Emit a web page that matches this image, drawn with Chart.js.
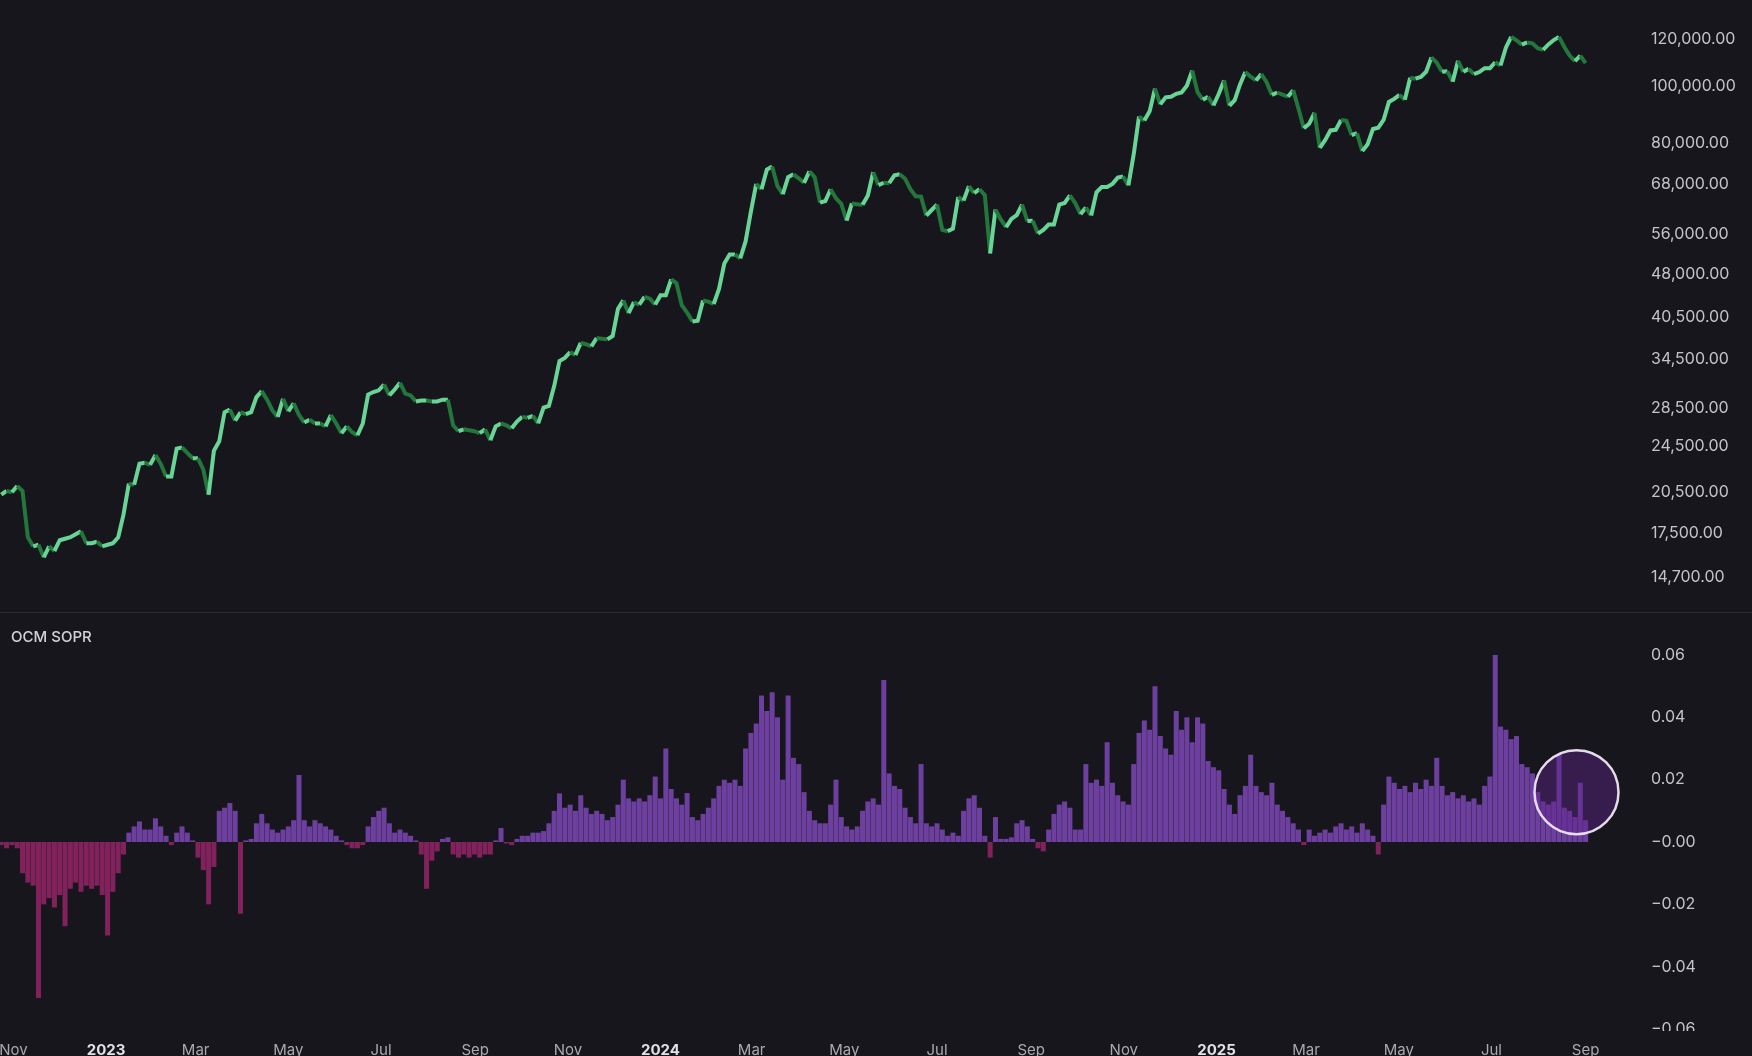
<!DOCTYPE html>
<html>
<head>
<meta charset="utf-8">
<script src="https://cdn.jsdelivr.net/npm/chart.js@4/dist/chart.umd.min.js"></script>
<style>
  html, body { margin: 0; padding: 0; background: #17161c; overflow: hidden; }
  #wrap { width: 1752px; height: 1056px; position: relative; }
  #top { display: block; }
  #bottomBox { border-top: 1px solid #2b2a31; }
  #bottom { display: block; }
</style>
</head>
<body>
<div id="wrap">
  <canvas id="top" width="1752" height="612"></canvas>
  <div id="bottomBox"><canvas id="bottom" width="1752" height="443"></canvas></div>
</div>
<script>
// ---------------- DATA ----------------
// Samples every 3.5 days starting 2022-10-24
const startDate = '2022-10-24';
const stepDays = 3.5;

// BTC price (USD thousands)
const btcPriceK = [
  20.3, 20.6, 20.5, 21.0, 20.6, 17.2, 16.6, 16.7, 15.9, 16.6,
  16.3, 17.0, 17.1, 17.2, 17.4, 17.6, 16.8, 16.8, 16.9, 16.6,
  16.7, 16.8, 17.2, 18.8, 21.2, 21.1, 22.9, 23.0, 22.8, 23.7,
  22.9, 21.8, 21.8, 24.3, 24.4, 23.9, 23.4, 23.4, 22.4, 20.3,
  24.1, 25.0, 28.0, 28.3, 27.1, 28.0, 27.8, 28.0, 29.7, 30.4,
  29.4, 28.2, 27.5, 29.5, 28.1, 29.0, 27.7, 26.9, 27.2, 26.8,
  26.8, 26.5, 27.7, 26.8, 25.8, 26.5, 25.9, 25.6, 26.8, 30.0,
  30.3, 30.5, 31.2, 29.9, 30.6, 31.4, 30.1, 29.9, 29.2, 29.3,
  29.3, 29.2, 29.2, 29.4, 29.4, 26.6, 26.0, 26.2, 26.1, 26.0,
  25.8, 26.2, 25.1, 26.5, 26.8, 26.6, 26.3, 27.0, 27.5, 27.4,
  27.6, 26.8, 28.5, 28.7, 31.0, 34.2, 34.6, 35.4, 35.0, 36.7,
  36.5, 36.2, 37.4, 37.3, 37.2, 37.7, 41.9, 43.3, 41.2, 43.0,
  42.6, 43.9, 43.6, 42.6, 44.2, 44.2, 47.0, 46.3, 42.5, 41.3,
  39.9, 40.0, 43.3, 43.1, 42.7, 45.3, 50.0, 51.8, 51.8, 51.0,
  54.5, 61.2, 68.2, 66.8, 72.1, 73.0, 67.6, 65.5, 70.0, 70.8,
  69.7, 68.5, 71.6, 70.0, 63.4, 63.8, 66.8, 64.5, 63.1, 59.1,
  63.2, 63.0, 62.9, 65.2, 71.4, 67.9, 68.5, 68.4, 70.5, 70.8,
  69.6, 66.8, 65.0, 64.9, 60.3, 61.6, 62.9, 57.0, 56.7, 57.3,
  64.8, 63.9, 67.6, 65.8, 66.8, 65.3, 52.0, 61.7, 59.4, 57.6,
  59.5, 60.4, 62.9, 59.0, 59.1, 56.2, 57.0, 58.2, 58.2, 62.9,
  63.3, 65.2, 63.3, 60.6, 62.2, 60.3, 66.0, 67.4, 67.4, 68.2,
  69.9, 70.2, 67.8, 76.5, 88.7, 87.3, 90.5, 98.9, 93.0, 95.6,
  95.8, 96.9, 97.4, 100.0, 106.1, 97.5, 94.7, 95.8, 92.6, 96.9,
  102.1, 92.5, 94.5, 100.5, 105.5, 103.6, 102.1, 104.7, 101.4, 96.5,
  97.4, 96.6, 95.8, 98.3, 91.4, 84.7, 86.2, 90.0, 78.5, 80.9,
  84.0, 84.2, 87.5, 87.2, 82.5, 83.1, 77.5, 79.6, 84.5, 84.9,
  87.5, 93.9, 95.0, 96.5, 94.7, 103.2, 102.8, 103.5, 105.6, 111.7,
  109.4, 105.6, 105.8, 101.6, 110.2, 105.6, 106.8, 104.6, 105.5, 107.1,
  107.1, 109.6, 108.2, 116.0, 121.0, 119.4, 117.4, 118.4, 118.0, 115.8,
  115.0, 117.5, 119.5, 121.0, 116.3, 112.5, 110.1, 112.5, 109.2
];

// OCM SOPR oscillator values
const soprValues = [
  -0.001, -0.002, -0.001, -0.002, -0.010, -0.013, -0.014, -0.050, -0.020, -0.018,
  -0.021, -0.017, -0.027, -0.015, -0.013, -0.016, -0.014, -0.015, -0.014, -0.017,
  -0.030, -0.016, -0.010, -0.004, 0.003, 0.005, 0.0066, 0.004, 0.004, 0.0076,
  0.005, 0.002, -0.001, 0.003, 0.005, 0.003, 0.0005, -0.005, -0.009, -0.020,
  -0.008, 0.010, 0.011, 0.0125, 0.010, -0.023, 0.0005, 0.001, 0.006, 0.009,
  0.006, 0.004, 0.003, 0.004, 0.005, 0.007, 0.0215, 0.007, 0.005, 0.007,
  0.006, 0.005, 0.004, 0.002, 0.0005, -0.001, -0.002, -0.002, -0.001, 0.005,
  0.008, 0.010, 0.011, 0.006, 0.003, 0.004, 0.003, 0.002, 0.0005, -0.004,
  -0.015, -0.006, -0.003, 0.001, 0.0015, -0.004, -0.005, -0.004, -0.005, -0.004,
  -0.005, -0.004, -0.004, 0.0005, 0.0045, -0.0005, -0.001, 0.001, 0.002, 0.002,
  0.003, 0.003, 0.0035, 0.006, 0.010, 0.0156, 0.011, 0.012, 0.010, 0.015,
  0.011, 0.009, 0.010, 0.009, 0.007, 0.008, 0.012, 0.020, 0.014, 0.013,
  0.014, 0.013, 0.015, 0.021, 0.014, 0.030, 0.017, 0.014, 0.012, 0.0157,
  0.008, 0.007, 0.009, 0.011, 0.014, 0.018, 0.020, 0.019, 0.020, 0.018,
  0.030, 0.035, 0.038, 0.047, 0.042, 0.048, 0.040, 0.020, 0.047, 0.027,
  0.025, 0.016, 0.010, 0.007, 0.006, 0.006, 0.012, 0.020, 0.008, 0.005,
  0.004, 0.005, 0.010, 0.013, 0.014, 0.012, 0.052, 0.022, 0.018, 0.017,
  0.011, 0.008, 0.006, 0.025, 0.006, 0.005, 0.006, 0.004, 0.002, 0.003,
  0.002, 0.010, 0.014, 0.015, 0.011, 0.002, -0.005, 0.008, 0.001, 0.001,
  0.0015, 0.006, 0.007, 0.005, 0.001, -0.002, -0.003, 0.004, 0.009, 0.012,
  0.013, 0.011, 0.004, 0.004, 0.025, 0.019, 0.020, 0.018, 0.032, 0.019,
  0.015, 0.013, 0.012, 0.025, 0.035, 0.039, 0.036, 0.050, 0.034, 0.030,
  0.028, 0.042, 0.036, 0.040, 0.032, 0.040, 0.038, 0.026, 0.024, 0.023,
  0.017, 0.012, 0.009, 0.015, 0.018, 0.028, 0.018, 0.016, 0.015, 0.019,
  0.012, 0.010, 0.008, 0.006, 0.004, -0.001, 0.004, 0.002, 0.003, 0.004,
  0.003, 0.005, 0.006, 0.004, 0.005, 0.003, 0.006, 0.004, 0.002, -0.004,
  0.012, 0.021, 0.019, 0.017, 0.018, 0.016, 0.019, 0.017, 0.020, 0.018,
  0.027, 0.018, 0.015, 0.016, 0.014, 0.015, 0.013, 0.014, 0.012, 0.018,
  0.021, 0.060, 0.037, 0.036, 0.033, 0.034, 0.025, 0.024, 0.022, 0.016,
  0.013, 0.012, 0.013, 0.028, 0.011, 0.010, 0.008, 0.019, 0.007
];

// Axis tick labels
const priceTicks = [14700, 17500, 20500, 24500, 28500, 34500, 40500, 48000, 56000, 68000, 80000, 100000, 120000];
const soprTicks = [-0.06, -0.04, -0.02, 0, 0.02, 0.04, 0.06];
const xTickDates = ['2022-11-01','2023-01-01','2023-03-01','2023-05-01','2023-07-01','2023-09-01','2023-11-01',
                    '2024-01-01','2024-03-01','2024-05-01','2024-07-01','2024-09-01','2024-11-01',
                    '2025-01-01','2025-03-01','2025-05-01','2025-07-01','2025-09-01'];
const xTickLabels = ['Nov','2023','Mar','May','Jul','Sep','Nov','2024','Mar','May','Jul','Sep','Nov','2025','Mar','May','Jul','Sep'];

// Highlight circle (date, value)
const highlightDate = ['2025-08-26'];
const highlightValue = [0.016];

// ---------------- HELPERS ----------------
const dayOf = d => (Date.parse(d) - Date.parse(startDate)) / 864e5;
const xTickDays = xTickDates.map(dayOf);
const X_MIN = -0.82, X_MAX = 1078.8;
const FONT = 'Inter, "Noto Sans", "DejaVu Sans", sans-serif';
const BG = '#17161c';

const priceData = btcPriceK.map((v, i) => ({ x: i * stepDays, y: v * 1000 }));
const soprData = soprValues.map((v, i) => ({ x: i * stepDays, y: v }));
const circleData = highlightDate.map((d, i) => ({ x: dayOf(d), y: highlightValue[i] }));

const UP = '#68d596', DOWN = '#23763c';

function fixY(w) { return s => { s.width = w; s.paddingTop = 0; s.paddingBottom = 0; }; }

// ---------------- TOP CHART ----------------
new Chart(document.getElementById('top'), {
  type: 'line',
  data: {
    datasets: [{
      data: priceData,
      borderWidth: 4,
      pointRadius: 0,
      tension: 0,
      borderJoinStyle: 'miter',
      borderColor: UP,
      segment: {
        borderColor: c => (c.p1.parsed.y >= c.p0.parsed.y ? UP : DOWN)
      }
    }]
  },
  options: {
    responsive: false,
    animation: false,
    devicePixelRatio: 1,
    events: [],
    layout: { padding: 0, autoPadding: false },
    plugins: { legend: { display: false }, tooltip: { enabled: false } },
    scales: {
      x: { type: 'linear', min: X_MIN, max: X_MAX, display: false },
      y: {
        type: 'logarithmic', position: 'right', min: 12850, max: 139700, bounds: 'data',
        grid: { display: false, drawTicks: false }, border: { display: false },
        afterBuildTicks: s => { s.ticks = priceTicks.map(v => ({ value: v })); },
        afterFit: fixY(112),
        ticks: {
          padding: 11, color: '#c3c3c8', font: { family: FONT, size: 16 },
          callback: v => Number(v).toLocaleString('en-US', { minimumFractionDigits: 2, maximumFractionDigits: 2 })
        }
      }
    }
  }
});

// ---------------- BOTTOM CHART ----------------
const labelPlugin = {
  id: 'paneLabel',
  afterDraw(chart) {
    const ctx = chart.ctx;
    ctx.save();
    // mask below the pane so the last axis label is cut like the reference
    ctx.fillStyle = BG;
    ctx.fillRect(chart.chartArea.right + 1, chart.chartArea.bottom + 1, chart.width, chart.height);
    ctx.fillStyle = '#d2d2d6';
    ctx.font = '500 15px ' + FONT;
    ctx.textBaseline = 'middle';
    ctx.fillText('OCM SOPR', 11, 24);
    ctx.restore();
  }
};

new Chart(document.getElementById('bottom'), {
  type: 'bar',
  data: {
    datasets: [
      {
        type: 'scatter',
        data: circleData,
        pointRadius: 42,
        pointBackgroundColor: 'rgba(95, 35, 140, 0.45)',
        pointBorderColor: 'rgba(238, 230, 246, 0.95)',
        pointBorderWidth: 2.5,
        clip: false,
        order: 0
      },
      {
        data: soprData,
        backgroundColor: soprValues.map(v => v >= 0 ? 'rgba(124, 72, 182, 0.85)' : 'rgba(148, 36, 104, 0.85)'),
        barPercentage: 0.94,
        categoryPercentage: 1,
        order: 1
      }
    ]
  },
  options: {
    responsive: false,
    animation: false,
    devicePixelRatio: 1,
    events: [],
    layout: { padding: 0, autoPadding: false },
    plugins: { legend: { display: false }, tooltip: { enabled: false } },
    scales: {
      x: {
        type: 'linear', min: X_MIN, max: X_MAX, offset: false, bounds: 'data',
        grid: { display: false, drawTicks: false }, border: { display: false },
        afterBuildTicks: s => { s.ticks = xTickDays.map(v => ({ value: v })); },
        afterFit: s => { s.height = 26; s.paddingLeft = 0; s.paddingRight = 0; },
        ticks: {
          autoSkip: false, maxRotation: 0, padding: 11,
          color: c => (/^\d{4}$/.test(xTickLabels[c.index]) ? '#e2e2e6' : '#a9a9ae'),
          font: c => ({ family: FONT, size: 15, weight: /^\d{4}$/.test(xTickLabels[c.index]) ? 'bold' : 'normal' }),
          callback: (v, i) => xTickLabels[i]
        }
      },
      y: {
        type: 'linear', position: 'right', min: -0.0603, max: 0.07346, bounds: 'data',
        grid: { display: false, drawTicks: false }, border: { display: false },
        afterBuildTicks: s => { s.ticks = soprTicks.map(v => ({ value: v })); },
        afterFit: fixY(112),
        ticks: {
          padding: 11, color: '#c3c3c8', font: { family: FONT, size: 16 },
          callback: v => (v <= 0 ? '\u2212' : '') + Math.abs(v).toFixed(2)
        }
      }
    }
  },
  plugins: [labelPlugin]
});
</script>
</body>
</html>
